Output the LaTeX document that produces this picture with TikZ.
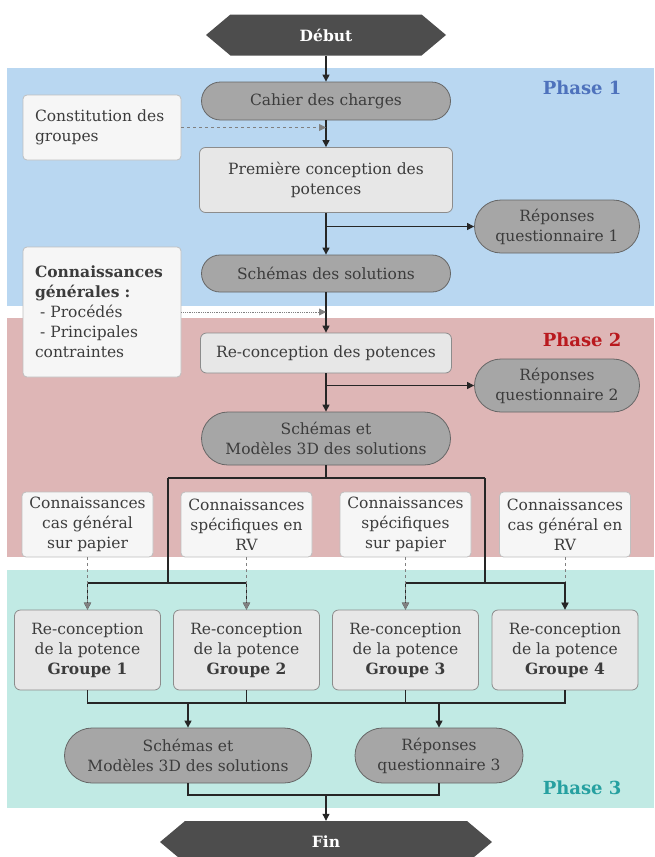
\documentclass[tikz,border=0pt]{standalone}
\usepackage{fontspec}
\setmainfont{DejaVu Serif}
\usetikzlibrary{arrows.meta,shapes.misc,shapes.symbols}

\definecolor{bandblue}{RGB}{185,215,241}
\definecolor{bandpink}{RGB}{222,182,182}
\definecolor{bandteal}{RGB}{193,234,228}
\definecolor{txtgray}{RGB}{60,60,60}
\definecolor{pillgray}{RGB}{166,166,166}
\definecolor{boxgray}{RGB}{231,231,231}
\definecolor{notegray}{RGB}{246,246,246}
\definecolor{hexgray}{RGB}{77,77,77}
\definecolor{phaseblue}{RGB}{78,114,188}
\definecolor{phasered}{RGB}{185,25,30}
\definecolor{phaseteal}{RGB}{38,160,160}

\tikzset{
  pill/.style={rounded rectangle, draw=black!60, fill=pillgray, line width=0.8pt,
    align=center, inner sep=2pt, text=txtgray},
  stepbox/.style={rectangle, rounded corners=6pt, draw=black!45, fill=boxgray,
    line width=0.8pt, align=center, inner sep=2pt, text=txtgray},
  notebox/.style={rectangle, rounded corners=4pt, draw=black!25, fill=notegray,
    line width=0.8pt, inner sep=2pt, text=txtgray},
  hexa/.style={signal, signal to=west and east, signal pointer angle=80,
    fill=hexgray, text=white, font=\bfseries\fontsize{15.5}{18}\selectfont, inner sep=2pt},
  flow/.style={line width=1.1pt, black!85},
  arr/.style={-{Triangle[length=7pt,width=7pt]}},
  hint/.style={line width=0.8pt, gray, dashed, -{Triangle[length=7pt,width=7pt]}},
  phase/.style={font=\bfseries\fontsize{18}{20}\selectfont, anchor=east},
}

\begin{document}
\begin{tikzpicture}[x=1pt,y=-1pt,font=\fontsize{15.5}{20}\selectfont]
  \useasboundingbox (0,0) rectangle (654,857);

  % the three phases
  \fill[bandblue] (7,68) rectangle (654,306);
  \fill[bandpink] (7,318) rectangle (654,557);
  \fill[bandteal] (7,570) rectangle (654,808);
  \node[phase, text=phaseblue] (ph1) at (625,88) {Phase 1};
  \node[phase, text=phasered] (ph2) at (625,340) {Phase 2};
  \node[phase, text=phaseteal] (ph3) at (625,788) {Phase 3};

  % phase 1
  \node[hexa, minimum width=240pt, minimum height=41pt] (debut) at (326,35) {Début};
  \node[pill, minimum width=253pt, minimum height=38pt] (cahier) at (326,101) {Cahier des charges};
  \node[notebox, minimum width=158pt, minimum height=65pt, text width=134pt, align=left]
    (constit) at (102,127.5) {Constitution des\\groupes};
  \node[stepbox, minimum width=253pt, minimum height=65pt] (premiere) at (326,180)
    {Première conception des\\potences};
  \node[pill, minimum width=169pt, minimum height=53pt] (rep1) at (557,226.5)
    {Réponses\\questionnaire 1};
  \node[pill, minimum width=253pt, minimum height=37pt] (schemas) at (326,273.5)
    {Schémas des solutions};
  \node[notebox, minimum width=158pt, minimum height=130pt, text width=134pt, align=left]
    (conn) at (102,312) {\textbf{Connaissances}\\\textbf{générales :}\\
    \hspace{5pt}- Procédés\\\hspace{5pt}- Principales\\contraintes};

  % phase 2
  \node[stepbox, minimum width=251pt, minimum height=40pt] (recon) at (326,353)
    {Re-conception des potences};
  \node[pill, minimum width=169pt, minimum height=53pt] (rep2) at (557,385.5)
    {Réponses\\questionnaire 2};
  \node[pill, minimum width=253pt, minimum height=53pt] (sch3d) at (326,438.5)
    {Schémas et\\Modèles 3D des solutions};
  \node[notebox, align=center, minimum width=131pt, minimum height=65pt] (k1) at (87.5,524.5)
    {Connaissances\\cas général\\sur papier};
  \node[notebox, align=center, minimum width=131pt, minimum height=65pt] (k2) at (246.5,524.5)
    {Connaissances\\spécifiques en\\RV};
  \node[notebox, align=center, minimum width=131pt, minimum height=65pt] (k3) at (405.5,524.5)
    {Connaissances\\spécifiques\\sur papier};
  \node[notebox, align=center, minimum width=131pt, minimum height=65pt] (k4) at (565,524.5)
    {Connaissances\\cas général en\\RV};

  % phase 3
  \node[stepbox, minimum width=146pt, minimum height=80pt] (g1) at (87.5,650)
    {Re-conception\\de la potence\\\textbf{Groupe 1}};
  \node[stepbox, minimum width=146pt, minimum height=80pt] (g2) at (246.5,650)
    {Re-conception\\de la potence\\\textbf{Groupe 2}};
  \node[stepbox, minimum width=146pt, minimum height=80pt] (g3) at (405.5,650)
    {Re-conception\\de la potence\\\textbf{Groupe 3}};
  \node[stepbox, minimum width=146pt, minimum height=80pt] (g4) at (565,650)
    {Re-conception\\de la potence\\\textbf{Groupe 4}};
  \node[pill, minimum width=251pt, minimum height=55pt] (s3d) at (188,755.5)
    {Schémas et\\Modèles 3D des solutions};
  \node[pill, minimum width=172pt, minimum height=55pt] (rep3) at (439,755.5)
    {Réponses\\questionnaire 3};
  \node[hexa, minimum width=332pt, minimum height=42pt] (fin) at (326,842) {Fin};

  \coordinate (split) at (326,478);
  \coordinate (lb) at (168,583);
  \coordinate (rb) at (485,583);
  \coordinate (merge) at (326,703);
  \coordinate (join) at (326,795);

  % connectors
  \draw[flow,arr] (debut.south) -- (cahier.north);
  \draw[flow,arr] (cahier.south) -- (premiere.north);
  \draw[hint] (constit.east) -- (constit.east -| cahier.south);
  \draw[flow,arr] (premiere.south) -- (schemas.north);
  \draw[flow,arr] (premiere.south |- rep1.west) -- (rep1.west);
  \draw[flow,arr] (schemas.south) -- (recon.north);
  \draw[hint, densely dotted] (conn.east) -- (conn.east -| schemas.south);
  \draw[flow,arr] (recon.south) -- (sch3d.north);
  \draw[flow,arr] (recon.south |- rep2.west) -- (rep2.west);

  \draw[hint] (k4.south) -- (g4.north);
  \draw[flow] (sch3d.south) -- (split);
  \draw[flow] (split -| lb) -- (split -| rb);
  \draw[flow] (split -| lb) -- (lb);
  \draw[flow] (split -| rb) -- (rb);
  \draw[flow,arr] (lb) -| (g1.north);
  \draw[flow,arr] (lb) -| (g2.north);
  \draw[flow,arr] (rb) -| (g3.north);
  \draw[flow,arr] (rb) -| (g4.north);
  \draw[hint] (k1.south) -- (g1.north);
  \draw[hint] (k2.south) -- (g2.north);
  \draw[hint] (k3.south) -- (g3.north);

  \draw[flow] (g1.south) -- (g1.south |- merge) -- (g4.south |- merge) -- (g4.south);
  \draw[flow] (g2.south) -- (g2.south |- merge);
  \draw[flow] (g3.south) -- (g3.south |- merge);
  \draw[flow,arr] (s3d.north |- merge) -- (s3d.north);
  \draw[flow,arr] (rep3.north |- merge) -- (rep3.north);
  \draw[flow] (s3d.south) -- (s3d.south |- join) -- (rep3.south |- join) -- (rep3.south);
  \draw[flow,arr] (join) -- (fin.north);

\end{tikzpicture}
\end{document}
